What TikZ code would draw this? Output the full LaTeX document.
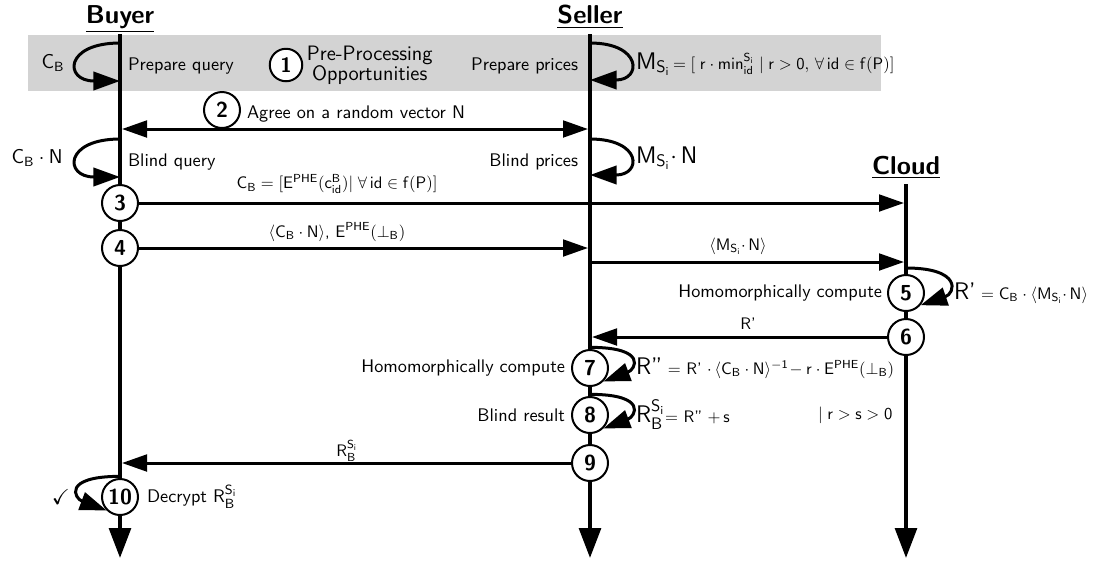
\documentclass[tikz,border=0pt]{standalone}
\usepackage{amssymb}
\usetikzlibrary{arrows.meta, positioning}
\definecolor{Band}{HTML}{D3D3D3}
\definecolor{Ink}{HTML}{000000}
\newcommand{\eqbig}{\fontsize{14.4}{16}\selectfont}
\newcommand{\eqsmall}{\fontsize{10}{12}\selectfont}

\begin{document}
\begin{tikzpicture}[x=0.6pt, y=-0.6pt, >={Triangle[length=15pt,width=10pt]},
  actor/.style={font=\fontsize{15.5}{18}\selectfont\sffamily\bfseries, inner sep=0pt, anchor=base},
  life/.style={draw=Ink, line width=2.4pt, -{Triangle[length=18pt,width=13pt]}},
  msg/.style={draw=Ink, line width=1.8pt, ->, shorten >=1.2pt},
  selfloop/.style={draw=Ink, line width=1.8pt, -{Triangle[length=16pt,width=11pt]}},
  stepno/.style={circle, draw=Ink, line width=1.2pt, fill=white, minimum size=21.6pt,
                 inner sep=0pt, font=\fontsize{13}{13}\selectfont\sffamily\bfseries},
  lbl/.style={font=\fontsize{10.95}{13}\selectfont\sffamily, inner sep=1pt},
  eq/.style={font=\eqsmall\sffamily, inner sep=1pt}
]

\useasboundingbox (0,0) rectangle (1095,561);

%% ---- Pre-processing band ----
\fill[Band] (28,35) rectangle (881,91);

%% ---- Parties and lifelines ----
\node[actor] (buyer)  at (120,23)  {\underline{Buyer}};
\node[actor] (seller) at (590,23)  {\underline{Seller}};
\node[actor] (cloud)  at (906,174) {\underline{Cloud}};

\coordinate (buyerTop)  at (120,34);
\coordinate (sellerTop) at (590,34);
\coordinate (cloudTop)  at (906,184);
\coordinate (buyerEnd)  at (120,558);
\coordinate (sellerEnd) at (590,558);
\coordinate (cloudEnd)  at (906,558);

\draw[life] (buyerTop)  -- (buyerEnd);
\draw[life] (sellerTop) -- (sellerEnd);
\draw[life] (cloudTop)  -- (cloudEnd);

%% ---- Steps ----
\node[stepno, minimum size=19.5pt, font=\fontsize{12.5}{12}\selectfont\sffamily\bfseries] (s1) at (286,65) {1};
\node[stepno] (s2)  at (222,110) {2};
\node[stepno] (s3)  at (120,203) {3};
\node[stepno] (s4)  at (120,248) {4};
\node[stepno] (s5)  at (906,293) {5};
\node[stepno] (s6)  at (906,337) {6};
\node[stepno] (s7)  at (590,368) {7};
\node[stepno] (s8)  at (590,415) {8};
\node[stepno] (s9)  at (590,463) {9};
\node[stepno] (s10) at (120,497) {10};

%% ---- Step 1: preparation ----
\coordinate (bq1a) at (120,43);  \coordinate (bq1b) at (120,81);
\coordinate (sp1a) at (590,43);  \coordinate (sp1b) at (590,80);
\draw[selfloop] (bq1a) .. controls +(-56,0) and +(-56,0) .. (bq1b);
\draw[selfloop] (sp1a) .. controls +(52,0) and +(52,0) .. (sp1b);

\node[eq, font=\fontsize{12}{14}\selectfont\sffamily] (cB) at (53,63) {$\mathsf{C_B}$};
\node[lbl, anchor=west] (prepQ) at (126,66) {Prepare query};
\node[lbl, font=\fontsize{12.5}{12}\selectfont\sffamily, align=center, right=1pt of s1] (preproc) {Pre-Processing\\Opportunities};
\node[lbl, anchor=east] (prepP) at (580,66) {Prepare prices};
\node[eq, anchor=west] (mSi) at (634,64)
  {{\eqbig$\mathsf{M_{S_i}}$}$\,=[\;\mathsf{r}\cdot\mathsf{min^{S_i}_{id}}\mid\mathsf{r}>\mathsf{0},\,\forall\,\mathsf{id}\in\mathsf{f(P)}]$};

%% ---- Step 2: blinding ----
\coordinate (bq2) at (120,129);  \coordinate (sp2) at (590,129);
\draw[msg, <->, shorten <=1.2pt] (sp2) -- (bq2);
\node[lbl, anchor=west] (agree) at (245,114) {Agree on a random vector N};

\coordinate (bq3a) at (120,139); \coordinate (bq3b) at (120,177);
\coordinate (sp3a) at (590,139); \coordinate (sp3b) at (590,175);
\draw[selfloop] (bq3a) .. controls +(-56,0) and +(-56,0) .. (bq3b);
\draw[selfloop] (sp3a) .. controls +(52,0) and +(52,0) .. (sp3b);

\node[eq, font=\fontsize{12}{14}\selectfont\sffamily] (cBN) at (37,158) {$\mathsf{C_B\cdot N}$};
\node[lbl, anchor=west] (blindQ) at (126,162) {Blind query};
\node[lbl, anchor=east] (blindP) at (580,162) {Blind prices};
\node[eq, anchor=west] (mSiN) at (634,158) {\eqbig$\mathsf{M_{S_i}}{\cdot}\,\mathsf{N}$};

%% ---- Steps 3 and 4: sending ----
\draw[msg] (s3) -- (s3 -| cloudEnd);
\node[eq] (sendCB) at (337,184)
  {$\mathsf{C_B}=[\mathsf{E^{PHE}}(\mathsf{c^B_{id}})|\;\forall\,\mathsf{id}\in\mathsf{f(P)}]$};
\draw[msg] (s4) -- (s4 -| sellerEnd);
\node[eq] (sendCBN) at (337,232)
  {$\langle\mathsf{C_B\cdot N}\rangle$, $\mathsf{E^{PHE}}(\perp_{\mathsf{B}})$};
\coordinate (spM) at (590,262);
\draw[msg] (spM) -- (spM -| cloudEnd);
\node[eq] (sendM) at (738,246) {$\langle\mathsf{M_{S_i}}{\cdot}\,\mathsf{N}\rangle$};

%% ---- Steps 5 and 6: cloud ----
\draw[selfloop] ([yshift=3.6pt]s5.north) .. controls +(56,0) and +(35,-12) .. (s5.-40);
\node[lbl, anchor=east] (homoC) at (884,293) {Homomorphically compute};
\node[eq, anchor=west] (rPrime) at (952,293)
  {{\eqbig R'} $=\mathsf{C_B}\cdot\langle\mathsf{M_{S_i}}{\cdot}\,\mathsf{N}\rangle$};
\draw[msg] (s6) -- (s6 -| sellerEnd);
\node[eq] (sendR) at (748,324) {R'};

%% ---- Steps 7 to 9: seller ----
\draw[selfloop] ([yshift=1pt]s7.north) .. controls +(58,0) and +(32,-12) .. (s7.-45);
\node[lbl, anchor=east] (homoS) at (567,368) {Homomorphically compute};
\node[eq, anchor=west] (rPP) at (634,368)
  {{\eqbig R''} $=$ R' $\cdot\,\langle\mathsf{C_B\cdot N}\rangle^{\mathsf{-1}}\!-\mathsf{r}\cdot\mathsf{E^{PHE}}(\perp_{\mathsf{B}})$};

\draw[selfloop] ([yshift=1pt]s8.north) .. controls +(58,0) and +(32,-12) .. (s8.-45);
\node[lbl, anchor=east] (blindR) at (567,415) {Blind result};
\node[eq, anchor=west] (rBS) at (634,415) {{\eqbig$\mathsf{R^{S_i}_B}$}$=$ R'' $+\,\mathsf{s}$};
\node[eq, anchor=west] (cond) at (816,415) {$|\;\mathsf{r}>\mathsf{s}>\mathsf{0}$};

\draw[msg] (s9) -- (s9 -| buyerEnd);
\node[eq] (sendRBS) at (347,451) {$\mathsf{R^{S_i}_B}$};

%% ---- Step 10: buyer ----
\draw[selfloop] ([yshift=1pt]s10.north) .. controls +(-58,0) and +(-32,-12) .. (s10.-135);
\node[eq, font=\fontsize{13}{14}\selectfont] (check) at (61,497) {$\checkmark$};
\node[lbl, anchor=west] (decrypt) at (145,497) {Decrypt $\mathsf{R^{S_i}_B}$};

\end{tikzpicture}
\end{document}
